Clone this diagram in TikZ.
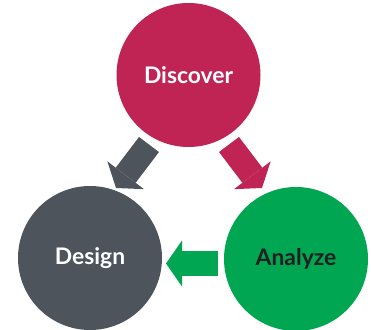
\documentclass[tikz,border=0pt]{standalone}
\usepackage{fontspec}
\setmainfont{Lato}
\usepackage{tikz}
\usepackage{tkz-euclide}
\usepackage{xcolor}
\usetikzlibrary{arrows.meta}

\definecolor{discover}{HTML}{C02454}
\definecolor{design}{HTML}{4D545B}
\definecolor{analyze}{HTML}{00A651}
\definecolor{ink}{HTML}{231F20}

\tikzset{
  stage/.style={circle, minimum size=2.88cm, inner sep=0pt,
    font=\fontsize{13}{15}\selectfont\bfseries},
  flow/.style={line width=0.5cm,
    -{Triangle[length=0.32cm,width=0.92cm,line width=0pt]}}
}

\begin{document}
\begin{tikzpicture}
		\useasboundingbox (0,0) rectangle (7.42,6.58);

		\tkzDefPoint(3.77,5.08){Di}
		\tkzDefPoint(1.80,1.42){De}
		\tkzDefPoint(5.92,1.40){An}

		\tkzDefPoint(2.98,3.69){G1}
		\tkzDefPoint(2.32,2.82){G2}
		\tkzDefPoint(4.58,3.69){R1}
		\tkzDefPoint(5.24,2.82){R2}
		\tkzDefPoint(4.36,1.31){A1}
		\tkzDefPoint(3.32,1.31){A2}

		\node[stage, fill=discover, text=white] (disc) at (Di) {Discover};
		\node[stage, fill=design, text=white] (desi) at (De) {Design};
		\node[stage, fill=analyze, text=ink] (anal) at (An) {Analyze};

		\draw[flow, design] (G1) -- (G2);
		\draw[flow, discover] (R1) -- (R2);
		\draw[flow, analyze] (A1) -- (A2);
	\end{tikzpicture}
\end{document}
